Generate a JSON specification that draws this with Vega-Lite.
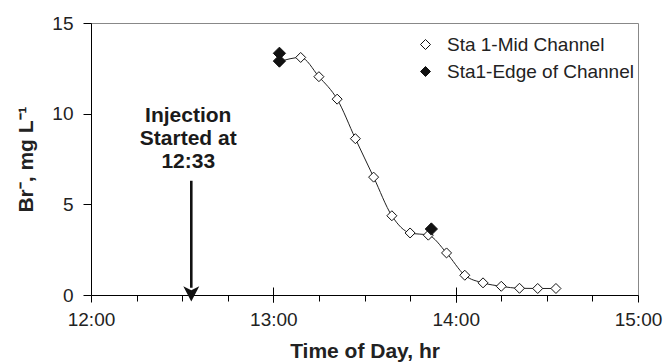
{
  "$schema": "https://vega.github.io/schema/vega-lite/v6.json",
  "width": 547,
  "height": 272,
  "autosize": "none",
  "padding": {"left": 91, "top": 23, "right": 29, "bottom": 69},
  "config": {
    "font": "Liberation Sans",
    "view": {"stroke": "#888", "strokeWidth": 1},
    "axis": {"labelColor": "#222", "titleColor": "#222", "domainColor": "black", "tickColor": "black", "grid": false}
  },
  "resolve": {"scale": {"x": "independent"}, "axis": {"x": "independent"}},
  "datasets": {
    "obs": [
      {"time": "2000-01-01T13:02:00", "br": 12.87, "series": "Sta 1-Mid Channel"},
      {"time": "2000-01-01T13:09:00", "br": 13.1, "series": "Sta 1-Mid Channel"},
      {"time": "2000-01-01T13:15:00", "br": 12.04, "series": "Sta 1-Mid Channel"},
      {"time": "2000-01-01T13:21:00", "br": 10.8, "series": "Sta 1-Mid Channel"},
      {"time": "2000-01-01T13:27:00", "br": 8.62, "series": "Sta 1-Mid Channel"},
      {"time": "2000-01-01T13:33:00", "br": 6.5, "series": "Sta 1-Mid Channel"},
      {"time": "2000-01-01T13:39:00", "br": 4.37, "series": "Sta 1-Mid Channel"},
      {"time": "2000-01-01T13:45:00", "br": 3.42, "series": "Sta 1-Mid Channel"},
      {"time": "2000-01-01T13:51:00", "br": 3.3, "series": "Sta 1-Mid Channel"},
      {"time": "2000-01-01T13:57:00", "br": 2.32, "series": "Sta 1-Mid Channel"},
      {"time": "2000-01-01T14:03:00", "br": 1.09, "series": "Sta 1-Mid Channel"},
      {"time": "2000-01-01T14:09:00", "br": 0.67, "series": "Sta 1-Mid Channel"},
      {"time": "2000-01-01T14:15:00", "br": 0.48, "series": "Sta 1-Mid Channel"},
      {"time": "2000-01-01T14:21:00", "br": 0.37, "series": "Sta 1-Mid Channel"},
      {"time": "2000-01-01T14:27:00", "br": 0.36, "series": "Sta 1-Mid Channel"},
      {"time": "2000-01-01T14:33:00", "br": 0.36, "series": "Sta 1-Mid Channel"},
      {"time": "2000-01-01T13:02:00", "br": 12.9, "series": "Sta1-Edge of Channel"},
      {"time": "2000-01-01T13:02:00", "br": 13.33, "series": "Sta1-Edge of Channel"},
      {"time": "2000-01-01T13:52:00", "br": 3.64, "series": "Sta1-Edge of Channel"}
    ],
    "note": [
      {"time": "2000-01-01T12:32:00", "br": 9.85, "label": "Injection\nStarted at\n12:33"}
    ],
    "arrow": [
      {"time": "2000-01-01T12:33:00", "top": 6.3, "bottom": 0.4, "tip": 0}
    ]
  },
  "layer": [
    {
      "data": {"name": "note"},
      "mark": {"type": "text", "fontSize": 21, "fontWeight": "bold", "lineHeight": 23, "align": "center", "baseline": "middle", "color": "#1a1a1a", "lineBreak": "\n"},
      "encoding": {
        "x": {"field": "time", "type": "temporal", "axis": null,
          "scale": {"domain": [{"year": 2000, "month": 1, "date": 1, "hours": 12}, {"year": 2000, "month": 1, "date": 1, "hours": 15}], "nice": false}},
        "y": {"field": "br", "type": "quantitative"},
        "text": {"field": "label"}
      }
    },
    {
      "data": {"name": "arrow"},
      "mark": {"type": "rule", "strokeWidth": 2.6, "color": "#111"},
      "encoding": {
        "x": {
          "field": "time", "type": "temporal",
          "scale": {"domain": [{"year": 2000, "month": 1, "date": 1, "hours": 12}, {"year": 2000, "month": 1, "date": 1, "hours": 15}], "nice": false},
          "axis": {
            "orient": "bottom", "offset": -8, "domain": false, "labels": false, "title": null,
            "tickSize": 15, "tickColor": "black",
            "values": [
              {"year": 2000, "month": 1, "date": 1, "hours": 13},
              {"year": 2000, "month": 1, "date": 1, "hours": 14}
            ]
          }
        },
        "y": {"field": "top", "type": "quantitative"},
        "y2": {"field": "bottom"}
      }
    },
    {
      "data": {"name": "arrow"},
      "mark": {"type": "point", "filled": true, "color": "#111", "size": 256, "opacity": 1, "shape": "M0,0.8L-1,-1.1L0,-0.6L1,-1.1Z"},
      "encoding": {
        "x": {"field": "time", "type": "temporal", "axis": null,
          "scale": {"domain": [{"year": 2000, "month": 1, "date": 1, "hours": 12}, {"year": 2000, "month": 1, "date": 1, "hours": 15}], "nice": false}},
        "y": {"field": "tip", "type": "quantitative"}
      }
    },
    {
      "data": {"name": "obs"},
      "transform": [{"filter": "datum.series == 'Sta 1-Mid Channel'"}],
      "mark": {"type": "line", "interpolate": "monotone", "color": "#222", "strokeWidth": 1},
      "encoding": {
        "x": {
          "field": "time", "type": "temporal",
          "scale": {"domain": [{"year": 2000, "month": 1, "date": 1, "hours": 12}, {"year": 2000, "month": 1, "date": 1, "hours": 15}], "nice": false},
          "axis": {
            "orient": "bottom", "domain": false, "labels": false, "title": null,
            "tickSize": 6, "tickColor": "black",
            "values": [
              {"year": 2000, "month": 1, "date": 1, "hours": 12, "minutes": 15},
              {"year": 2000, "month": 1, "date": 1, "hours": 12, "minutes": 30},
              {"year": 2000, "month": 1, "date": 1, "hours": 12, "minutes": 45},
              {"year": 2000, "month": 1, "date": 1, "hours": 13, "minutes": 15},
              {"year": 2000, "month": 1, "date": 1, "hours": 13, "minutes": 30},
              {"year": 2000, "month": 1, "date": 1, "hours": 13, "minutes": 45},
              {"year": 2000, "month": 1, "date": 1, "hours": 14, "minutes": 15},
              {"year": 2000, "month": 1, "date": 1, "hours": 14, "minutes": 30},
              {"year": 2000, "month": 1, "date": 1, "hours": 14, "minutes": 45}
            ]
          }
        },
        "y": {"field": "br", "type": "quantitative"}
      }
    },
    {
      "data": {"name": "obs"},
      "transform": [{"filter": "datum.series == 'Sta 1-Mid Channel'"}],
      "mark": {"type": "point", "shape": "diamond", "filled": true, "stroke": "#111", "strokeWidth": 1, "opacity": 1, "size": 100},
      "encoding": {
        "x": {
          "field": "time", "type": "temporal",
          "scale": {"domain": [{"year": 2000, "month": 1, "date": 1, "hours": 12}, {"year": 2000, "month": 1, "date": 1, "hours": 15}], "nice": false},
          "axis": {
            "orient": "bottom",
            "title": "Time of Day, hr", "titleFontSize": 21, "titleFontWeight": "bold", "titlePadding": 11,
            "format": "%H:%M",
            "values": [
              {"year": 2000, "month": 1, "date": 1, "hours": 12},
              {"year": 2000, "month": 1, "date": 1, "hours": 13},
              {"year": 2000, "month": 1, "date": 1, "hours": 14},
              {"year": 2000, "month": 1, "date": 1, "hours": 15}
            ],
            "labelFontSize": 19, "labelPadding": 8, "tickSize": 7, "labelFlush": false
          }
        },
        "y": {
          "field": "br", "type": "quantitative",
          "scale": {"domain": [0, 15], "nice": false},
          "axis": {
            "title": "Br⁻, mg L⁻¹", "titleFontSize": 21, "titleFontWeight": "bold",
            "values": [0, 5, 10, 15], "labelFontSize": 19, "tickSize": 8, "labelPadding": 10, "titlePadding": 15
          }
        },
        "fill": {
          "field": "series", "type": "nominal",
          "scale": {"domain": ["Sta 1-Mid Channel", "Sta1-Edge of Channel"], "range": ["white", "#111"]},
          "legend": {
            "title": null, "orient": "none", "legendX": 325, "legendY": 12,
            "labelFontSize": 19, "labelColor": "#222", "labelOffset": 12, "rowPadding": 7, "labelLimit": 400,
            "symbolSize": 100, "symbolType": "diamond", "symbolStrokeColor": "#111", "symbolStrokeWidth": 1,
            "encode": {"symbols": {"update": {
              "shape": {"signal": "datum.value == 'Sta 1-Mid Channel' ? 'M-4,0L-1,0M1,0L4,0M0,-1L1,0L0,1L-1,0Z' : 'diamond'"}
            }}}
          }
        }
      }
    },
    {
      "data": {"name": "obs"},
      "transform": [{"filter": "datum.series == 'Sta1-Edge of Channel'"}],
      "mark": {"type": "point", "shape": "diamond", "filled": true, "stroke": "#111", "strokeWidth": 1, "opacity": 1, "size": 150},
      "encoding": {
        "x": {"field": "time", "type": "temporal", "axis": null,
          "scale": {"domain": [{"year": 2000, "month": 1, "date": 1, "hours": 12}, {"year": 2000, "month": 1, "date": 1, "hours": 15}], "nice": false}},
        "y": {"field": "br", "type": "quantitative"},
        "fill": {"field": "series", "type": "nominal"}
      }
    }
  ]
}
